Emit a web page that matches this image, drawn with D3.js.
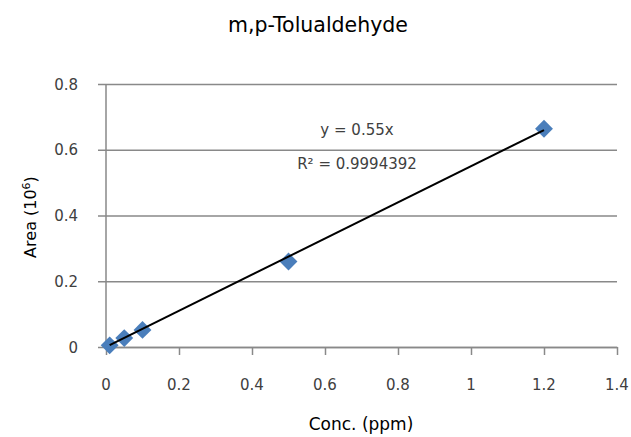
<!DOCTYPE html>
<html>
<head>
<meta charset="utf-8">
<script src="https://cdn.jsdelivr.net/npm/d3@7"></script>
<style>
  html, body { margin: 0; padding: 0; background: #fff; }
  svg text { font-family: "DejaVu Sans", Verdana, sans-serif; }
</style>
</head>
<body>
<svg id="chart" width="631" height="437"></svg>
<script>
// Calibration points for m,p-Tolualdehyde
const concPpm = [0.01, 0.05, 0.1, 0.5, 1.2];
const areaMillions = [0.005, 0.027, 0.052, 0.26, 0.664];

// Fitted trendline (through origin) and its stats
const slope = 0.55;
const rSquared = "0.9994392";

const xTicks = [0, 0.2, 0.4, 0.6, 0.8, 1, 1.2, 1.4];
const yTicks = [0, 0.2, 0.4, 0.6, 0.8];

const svg = d3.select("#chart");
const plotLeft = 106, plotRight = 617, plotTop = 84, plotBottom = 347;

const x = d3.scaleLinear().domain([0, 1.4]).range([plotLeft, plotRight]);
const y = d3.scaleLinear().domain([0, 0.8]).range([plotBottom, plotTop]);

const gridColor = "#898989";
const labelColor = "#404040";
const fmt = d3.format("");

// Horizontal gridlines (extend left past the axis as tick marks)
svg.append("g")
  .attr("transform", `translate(${plotLeft},0)`)
  .call(d3.axisLeft(y).tickValues(yTicks).tickSize(-(plotRight - plotLeft)).tickSizeOuter(0).tickFormat(""))
  .call(g => g.select(".domain").remove())
  .call(g => g.selectAll("line").attr("stroke", gridColor).attr("stroke-width", 1.5)
      .attr("x1", -8));

// Y tick labels
svg.append("g")
  .selectAll("text")
  .data(yTicks)
  .join("text")
  .attr("x", 78)
  .attr("y", d => y(d) + 5.5)
  .attr("text-anchor", "end")
  .attr("font-size", 15)
  .attr("fill", labelColor)
  .text(d => fmt(d));

// Y axis line
svg.append("line")
  .attr("x1", plotLeft).attr("x2", plotLeft)
  .attr("y1", y(0.8)).attr("y2", y(0))
  .attr("stroke", gridColor).attr("stroke-width", 1.5);

// X axis
const xAxis = svg.append("g")
  .attr("transform", `translate(0,${plotBottom})`)
  .call(d3.axisBottom(x).tickValues(xTicks).tickSize(8).tickSizeOuter(0).tickFormat(""));
xAxis.select(".domain").attr("stroke", gridColor).attr("stroke-width", 1.5);
xAxis.selectAll(".tick line").attr("stroke", gridColor).attr("stroke-width", 1.5);

// X tick labels
svg.append("g")
  .selectAll("text")
  .data(xTicks)
  .join("text")
  .attr("x", d => x(d))
  .attr("y", 390)
  .attr("text-anchor", "middle")
  .attr("font-size", 15)
  .attr("fill", labelColor)
  .text(d => fmt(d));

// Diamond markers
const diamond = d3.symbol().type(d3.symbolSquare).size(160);
svg.append("g")
  .selectAll("path")
  .data(concPpm.map((c, i) => [c, areaMillions[i]]))
  .join("path")
  .attr("d", diamond)
  .attr("transform", d => `translate(${x(d[0])},${y(d[1])}) rotate(45)`)
  .attr("fill", "#4A7EBB");

// Trendline across the data range, above the markers
const xMin = d3.min(concPpm), xMax = d3.max(concPpm);
svg.append("line")
  .attr("x1", x(xMin)).attr("y1", y(slope * xMin))
  .attr("x2", x(xMax)).attr("y2", y(slope * xMax))
  .attr("stroke", "#000").attr("stroke-width", 2);

// Equation and R² labels
svg.append("text")
  .attr("x", 357).attr("y", 135)
  .attr("text-anchor", "middle")
  .attr("font-size", 15).attr("fill", labelColor)
  .text(`y = ${slope}x`);
svg.append("text")
  .attr("x", 357).attr("y", 169)
  .attr("text-anchor", "middle")
  .attr("font-size", 15).attr("fill", labelColor)
  .text(`R² = ${rSquared}`);

// Title
svg.append("text")
  .attr("x", 318).attr("y", 32)
  .attr("text-anchor", "middle")
  .attr("font-size", 20.5).attr("fill", "#000")
  .text("m,p-Tolualdehyde");

// Axis titles
svg.append("text")
  .attr("x", 361).attr("y", 430)
  .attr("text-anchor", "middle")
  .attr("font-size", 17).attr("fill", "#000")
  .text("Conc. (ppm)");

const yTitle = svg.append("text")
  .attr("transform", "translate(36,217) rotate(-90)")
  .attr("text-anchor", "middle")
  .attr("font-size", 16).attr("fill", "#000");
yTitle.append("tspan").text("Area (10");
yTitle.append("tspan").attr("font-size", 11).attr("dy", -6).text("6");
yTitle.append("tspan").attr("dy", 6).text(")");
</script>
</body>
</html>
